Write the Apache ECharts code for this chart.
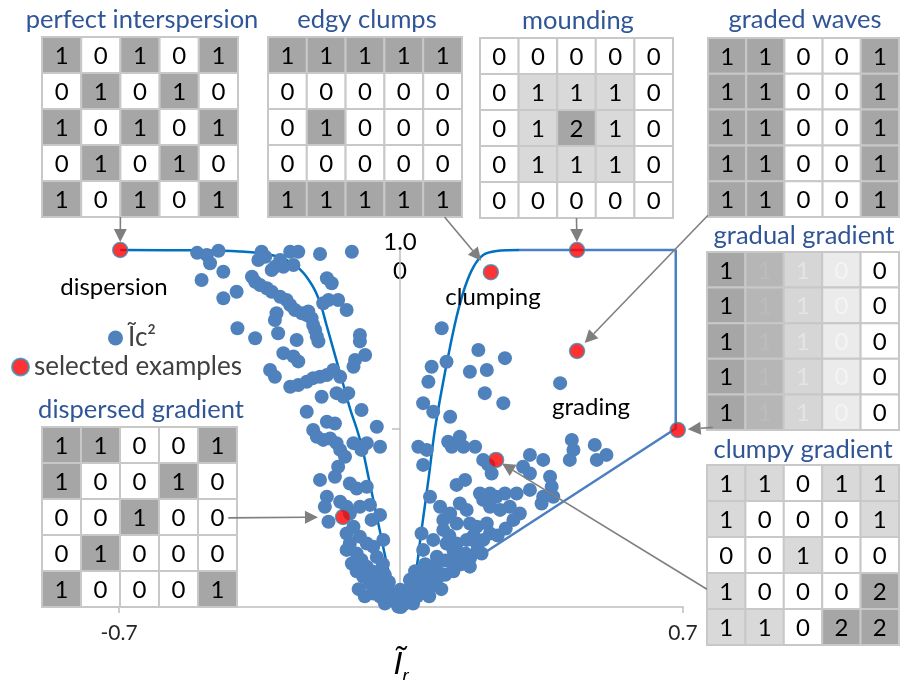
<!DOCTYPE html>
<html><head><meta charset="utf-8">
<script src="https://cdn.jsdelivr.net/npm/echarts@6/dist/echarts.min.js"></script>
<style>html,body{margin:0;padding:0;background:#fff}#c{width:900px;height:680px}</style>
</head><body><div id="c"></div>
<script>
// ---------- data ----------
const xTicks = [-0.7, 0.7];
const yTicks = [0.5];
const yTopLabel = '1.0\n0';

const leftPoints = [
 [-0.506,0.992],[-0.453,0.998],[-0.482,0.986],[-0.474,0.963],[-0.495,0.916],[-0.441,0.939],[-0.346,0.995],[-0.337,0.981],
 [-0.354,0.972],[-0.275,0.995],[-0.255,0.995],[-0.300,0.972],[-0.313,0.953],[-0.321,0.944],[-0.292,0.953],[-0.267,0.958],
 [-0.201,0.989],[-0.122,0.995],[-0.408,0.883],[-0.441,0.865],[-0.370,0.925],[-0.362,0.911],[-0.350,0.902],[-0.333,0.893],
 [-0.321,0.883],[-0.300,0.869],[-0.284,0.860],[-0.275,0.846],[-0.263,0.832],[-0.246,0.823],[-0.234,0.818],[-0.222,0.809],
 [-0.218,0.790],[-0.213,0.776],[-0.209,0.758],[-0.205,0.744],[-0.184,0.921],[-0.172,0.907],[-0.180,0.860],[-0.156,0.860],
 [-0.135,0.832],[-0.193,0.851],[-0.309,0.823],[-0.313,0.804],[-0.305,0.767],[-0.406,0.781],[-0.362,0.753],[-0.259,0.748],
 [-0.292,0.711],[-0.267,0.702],[-0.255,0.688],[-0.230,0.828],[-0.102,0.762],[-0.102,0.744],[-0.089,0.706],[-0.114,0.692],
 [-0.118,0.673],[-0.325,0.664],[-0.313,0.645],[-0.275,0.617],[-0.255,0.622],[-0.234,0.631],[-0.218,0.641],[-0.201,0.645],
 [-0.184,0.650],[-0.168,0.664],[-0.151,0.645],[-0.160,0.599],[-0.143,0.589],[-0.131,0.599],[-0.197,0.589],[-0.234,0.547],
 [-0.098,0.552],[-0.184,0.519],[-0.164,0.514],[-0.218,0.496],[-0.209,0.477],[-0.193,0.468],[-0.176,0.472],[-0.160,0.459],
 [-0.151,0.440],[-0.139,0.421],[-0.118,0.459],[-0.098,0.440],[-0.085,0.459],[-0.060,0.505],[-0.052,0.449],[-0.156,0.393],
 [-0.164,0.365],[-0.201,0.356],[-0.127,0.346],[-0.110,0.332],[-0.085,0.337],[-0.184,0.309],[-0.189,0.281],[-0.180,0.239],
 [-0.151,0.295],[-0.135,0.281],[-0.127,0.262],[-0.102,0.281],[-0.077,0.286],[-0.052,0.258],[-0.073,0.244],[-0.118,0.225],
 [-0.135,0.206],[-0.102,0.197],[-0.085,0.178],[-0.069,0.169],[-0.044,0.188],[-0.127,0.178],[-0.135,0.160],[-0.110,0.150],
 [-0.098,0.132],[-0.122,0.122],[-0.085,0.113],[-0.069,0.099],[-0.094,0.085],[-0.077,0.066],[-0.060,0.057],[-0.052,0.076],
 [-0.035,0.048],[-0.019,0.038],[-0.002,0.029],[-0.027,0.020],[-0.007,0.001],[-0.052,0.029],[-0.069,0.038],[-0.045,0.12],
 [-0.06,0.14],[-0.04,0.09],[-0.03,0.07],[-0.11,0.10],[-0.105,0.05],[-0.09,0.03],[-0.04,0.01],[-0.015,0.015]
];
const rightPoints = [
 [0.101,0.781],[0.192,0.720],[0.258,0.697],[0.076,0.673],[0.113,0.687],[0.171,0.659],[0.213,0.664],[0.068,0.631],
 [0.208,0.599],[0.254,0.571],[0.395,0.627],[0.055,0.571],[0.080,0.547],[0.122,0.533],[0.117,0.463],[0.146,0.477],
 [0.155,0.449],[0.126,0.449],[0.184,0.449],[0.043,0.449],[0.064,0.440],[0.055,0.398],[0.204,0.412],[0.217,0.398],
 [0.225,0.374],[0.320,0.426],[0.353,0.412],[0.303,0.393],[0.320,0.374],[0.370,0.365],[0.374,0.337],[0.424,0.468],
 [0.428,0.440],[0.419,0.412],[0.481,0.454],[0.486,0.412],[0.510,0.426],[0.159,0.356],[0.138,0.342],[0.072,0.309],
 [0.196,0.318],[0.221,0.318],[0.237,0.309],[0.258,0.318],[0.287,0.318],[0.320,0.328],[0.204,0.300],[0.221,0.281],
 [0.246,0.272],[0.270,0.281],[0.295,0.262],[0.279,0.244],[0.353,0.309],[0.349,0.290],[0.378,0.309],[0.097,0.281],
 [0.105,0.244],[0.122,0.262],[0.146,0.290],[0.163,0.272],[0.138,0.234],[0.105,0.216],[0.171,0.234],[0.188,0.225],
 [0.213,0.234],[0.221,0.206],[0.051,0.206],[0.080,0.188],[0.113,0.178],[0.138,0.178],[0.163,0.188],[0.188,0.178],
 [0.204,0.188],[0.055,0.160],[0.089,0.141],[0.122,0.132],[0.146,0.146],[0.171,0.136],[0.072,0.113],[0.047,0.094],
 [0.022,0.076],[-0.002,0.048],[0.006,0.038],[0.031,0.057],[0.055,0.066],[0.097,0.094],[0.130,0.113],[0.171,0.113],
 [0.080,0.066],[0.0,0.0],[0.01,0.01],[0.02,0.02],[0.03,0.01],[0.04,0.03],[0.05,0.04],[0.06,0.05],[0.08,0.06],
 [0.09,0.08],[0.11,0.09],[0.13,0.10],[0.15,0.12],[0.07,0.03],[0.10,0.05],[0.015,0.035],[0.025,0.06],[0.045,0.08],
 [0.065,0.09],[0.085,0.11],[0.11,0.13],[0.16,0.15],[0.19,0.16],[0.20,0.15],[0.13,0.16],[0.06,0.12],[0.035,0.10],
 [0.24,0.20],[0.26,0.22],[0.18,0.20],[0.12,0.20]
];

const exampleNames = ['perfect interspersion','edgy clumps','mounding','graded waves','gradual gradient','clumpy gradient','dispersed gradient'];
const examplePoints = [[-0.697,1.0],[0.223,0.938],[0.437,1.0],[0.437,0.717],[0.687,0.496],[0.236,0.412],[-0.144,0.252]];

const leftBoundary = [[-0.697,1.0],[-0.5,0.999],[-0.4,0.996],[-0.34,0.99],[-0.29,0.975],[-0.25,0.945],[-0.22,0.9],[-0.2,0.85],
 [-0.185,0.79],[-0.17,0.73],[-0.155,0.67],[-0.14,0.61],[-0.125,0.55],[-0.11,0.5],[-0.095,0.44],[-0.08,0.36],[-0.065,0.28],
 [-0.05,0.2],[-0.035,0.12],[-0.02,0.05],[-0.008,0.0]];
const rightCurve = [[0.02,0.0],[0.035,0.08],[0.051,0.216],[0.068,0.356],[0.084,0.496],[0.101,0.608],[0.117,0.702],
 [0.138,0.813],[0.159,0.897],[0.180,0.953],[0.204,0.986],[0.237,0.997],[0.295,1.0]];
const rightBox = [[0.295,1.0],[0.682,1.0],[0.682,0.5],[0.0,0.0]];

const mPerfect   = [[1,0,1,0,1],[0,1,0,1,0],[1,0,1,0,1],[0,1,0,1,0],[1,0,1,0,1]];
const mEdgy      = [[1,1,1,1,1],[0,0,0,0,0],[0,1,0,0,0],[0,0,0,0,0],[1,1,1,1,1]];
const mMound     = [[0,0,0,0,0],[0,1,1,1,0],[0,1,2,1,0],[0,1,1,1,0],[0,0,0,0,0]];
const mWaves     = [[1,1,0,0,1],[1,1,0,0,1],[1,1,0,0,1],[1,1,0,0,1],[1,1,0,0,1]];
const mGradual   = [[1,1,1,0,0],[1,1,1,0,0],[1,1,1,0,0],[1,1,1,0,0],[1,1,1,0,0]];
const mClumpy    = [[1,1,0,1,1],[1,0,0,0,1],[0,0,1,0,0],[1,0,0,0,2],[1,1,0,2,2]];
const mDispersed = [[1,1,0,0,1],[1,0,0,1,0],[0,0,1,0,0],[0,1,0,0,0],[1,0,0,0,1]];

// ---------- styling / layout ----------
const FONT = 'Lato, "Open Sans", sans-serif';
const binary = {fill: v => v ? '#a6a6a6' : '#ffffff', text: () => '#000'};
const ternary = {fill: v => ['#ffffff','#d9d9d9','#a6a6a6'][v], text: () => '#000'};
const gradCol = ['#a6a6a6','#b6b6b6','#d6d6d6','#ebebeb','#ffffff'];
const gradTxt = ['#000000','#bcbcbc','#e4e4e4','#f4f4f4','#000000'];
const gradual = {fill: (v,c) => gradCol[c], text: (v,c) => gradTxt[c]};

const matrices = [
 {name: exampleNames[0], vals: mPerfect,   sty: binary,  box: [42, 37, 196, 180],  title: [142, 20]},
 {name: exampleNames[1], vals: mEdgy,      sty: binary,  box: [268, 37, 194, 180], title: [367, 20]},
 {name: exampleNames[2], vals: mMound,     sty: ternary, box: [480, 38, 193, 180], title: [578, 21]},
 {name: exampleNames[3], vals: mWaves,     sty: binary,  box: [708, 38, 191, 179], title: [805, 20]},
 {name: exampleNames[4], vals: mGradual,   sty: gradual, box: [707, 252, 192, 178],title: [804, 236]},
 {name: exampleNames[5], vals: mClumpy,    sty: ternary, box: [707, 465, 192, 180],title: [803, 450]},
 {name: exampleNames[6], vals: mDispersed, sty: binary,  box: [42, 427, 195, 180], title: [141, 410]}
];
// arrow from matrix (fraction of box) to example point, with gap before the dot
const arrowSpecs = [
 {m:0, fx:0.40, fy:1.0, gap:8},
 {m:1, fx:0.91, fy:1.0, gap:15},
 {m:2, fx:0.50, fy:1.0, gap:8},
 {m:3, fx:0.0,  fy:0.99, gap:11},
 {m:4, fx:0.03, fy:0.985, gap:10},
 {m:5, fx:0.0,  fy:0.69, gap:7},
 {m:6, fx:0.955,fy:0.505, gap:25}
];

const chart = echarts.init(document.getElementById('c'), null, {renderer: 'canvas'});

const grids = [{left: 119, right: 217, top: 250, bottom: 73, containLabel: false, outerBoundsMode: 'none'}];
const xAxes = [{
  gridIndex: 0, type: 'value', min: -0.7, max: 0.7,
  axisLine: {show: true, onZero: false, lineStyle: {color: '#bfbfbf', width: 1.5}},
  axisTick: {show: true, customValues: xTicks, length: 6, lineStyle: {color: '#bfbfbf', width: 1.5}},
  axisLabel: {show: true, customValues: xTicks, margin: 16, fontSize: 21, color: '#262626', fontFamily: FONT},
  splitLine: {show: false},
  name: '{i|Ĩ}{r|r}', nameLocation: 'middle', nameGap: 30,
  nameTextStyle: {rich: {
    i: {fontSize: 32, fontStyle: 'italic', fontFamily: '"Liberation Sans", sans-serif', color: '#000'},
    r: {fontSize: 19, fontStyle: 'italic', fontFamily: '"Liberation Sans", sans-serif', color: '#000', padding: [24, 0, 0, 0]}
  }}
}];
const yAxes = [{
  gridIndex: 0, type: 'value', min: 0, max: 1,
  axisLine: {show: true, onZero: false, lineStyle: {color: '#bfbfbf', width: 1.5}},
  axisTick: {show: true, customValues: yTicks, length: 8, lineStyle: {color: '#bfbfbf', width: 1.5}},
  axisLabel: {show: false}, splitLine: {show: false},
  position: 'left', offset: -281,
  name: yTopLabel, nameLocation: 'end', nameGap: -7,
  nameTextStyle: {fontSize: 24, lineHeight: 29, color: '#000', verticalAlign: 'middle', align: 'center',
    backgroundColor: '#fff', padding: [2, 3], fontFamily: FONT}
}];
const series = [
  {name: 'leftBoundary', type: 'line', data: leftBoundary, smooth: 0.35, symbol: 'none', silent: true,
   lineStyle: {color: '#0070c0', width: 2.5}, z: 2, clip: false},
  {name: 'rightCurve', type: 'line', data: rightCurve, smooth: 0.35, symbol: 'none', silent: true,
   lineStyle: {color: '#0070c0', width: 2.5}, z: 2, clip: false},
  {name: 'rightBox', type: 'line', data: rightBox, smooth: false, symbol: 'none', silent: true,
   lineStyle: {color: '#4a7fc1', width: 2.5}, z: 2, clip: false},
  {name: 'Ĩc²', type: 'scatter', data: leftPoints.concat(rightPoints), symbolSize: 14,
   itemStyle: {color: '#4f81bd', opacity: 1}, z: 3, clip: false},
  {name: 'selected examples', type: 'scatter', data: examplePoints, symbolSize: 15,
   itemStyle: {color: '#ff0000', borderColor: '#3a8fb7', borderWidth: 1.5}, z: 4, clip: false}
];

matrices.forEach((m, k) => {
  const gi = k + 1;
  grids.push({left: m.box[0], top: m.box[1], width: m.box[2], height: m.box[3], containLabel: false, outerBoundsMode: 'none'});
  xAxes.push({gridIndex: gi, type: 'category', data: ['0','1','2','3','4'], show: false});
  yAxes.push({gridIndex: gi, type: 'category', data: ['0','1','2','3','4'], show: false, inverse: true});
  const data = [];
  m.vals.forEach((row, r) => row.forEach((v, c) => data.push([c, r, v])));
  series.push({
    type: 'custom', xAxisIndex: gi, yAxisIndex: gi, data: data, silent: true, z: 5,
    renderItem: function (params, api) {
      const c = api.value(0), r = api.value(1), v = api.value(2);
      const p = api.coord([c, r]);
      const s = api.size([1, 1]);
      return {type: 'group', children: [
        {type: 'rect', shape: {x: p[0] - s[0] / 2, y: p[1] - s[1] / 2, width: s[0], height: s[1]},
         style: {fill: m.sty.fill(v, c), stroke: '#c8c8c8', lineWidth: 2}},
        {type: 'text', style: {text: String(v), x: p[0], y: p[1] + 1, align: 'center', verticalAlign: 'middle',
         fill: m.sty.text(v, c), font: '24px ' + FONT}}
      ]};
    }
  });
});

const graphics = [];
matrices.forEach(m => {
  graphics.push({type: 'text', x: m.title[0], y: m.title[1], z: 20,
    style: {text: m.name, align: 'center', verticalAlign: 'middle', fill: '#2f5597', font: '25.5px ' + FONT}});
});
const labels = [
  {text: 'dispersion', x: 114, y: 287},
  {text: 'clumping', x: 493, y: 297},
  {text: 'grading', x: 591, y: 407}
];
labels.forEach(l => graphics.push({type: 'text', x: l.x, y: l.y, z: 20,
  style: {text: l.text, align: 'center', verticalAlign: 'middle', fill: '#000', font: '24px ' + FONT}}));

chart.setOption({
  animation: false,
  backgroundColor: '#ffffff',
  grid: grids, xAxis: xAxes, yAxis: yAxes, series: series,
  legend: [
    {data: ['Ĩc²'], left: 108, top: 325, itemWidth: 15, itemHeight: 15, selectedMode: false, padding: 0,
     textStyle: {fontSize: 26, color: '#404040', fontFamily: FONT}},
    {data: ['selected examples'], left: 11, top: 354, itemWidth: 17, itemHeight: 17, selectedMode: false, padding: 0,
     textStyle: {fontSize: 26, color: '#404040', fontFamily: FONT}}
  ],
  graphic: graphics
});

// arrows from matrices to the example points
function arrowEls(p0, p1) {
  const dx = p1[0] - p0[0], dy = p1[1] - p0[1], L = Math.hypot(dx, dy), ux = dx / L, uy = dy / L;
  const hl = 13, hw = 6.5;
  const b = [p1[0] - ux * hl, p1[1] - uy * hl];
  return [
    {type: 'line', z: 30, shape: {x1: p0[0], y1: p0[1], x2: b[0], y2: b[1]}, style: {stroke: '#7f7f7f', lineWidth: 1.6}},
    {type: 'polygon', z: 30, shape: {points: [p1, [b[0] - uy * hw, b[1] + ux * hw], [b[0] + uy * hw, b[1] - ux * hw]]},
     style: {fill: '#7f7f7f'}}
  ];
}
const arrowGraphics = [];
arrowSpecs.forEach((a, i) => {
  const box = matrices[a.m].box;
  const p0 = [box[0] + a.fx * box[2], box[1] + a.fy * box[3]];
  const dot = chart.convertToPixel({xAxisIndex: 0, yAxisIndex: 0}, examplePoints[a.m]);
  const dx = dot[0] - p0[0], dy = dot[1] - p0[1], L = Math.hypot(dx, dy);
  const tip = [dot[0] - dx / L * a.gap, dot[1] - dy / L * a.gap];
  arrowEls(p0, tip).forEach(e => arrowGraphics.push(e));
});
chart.setOption({graphic: graphics.concat(arrowGraphics)});
</script>
</body></html>
